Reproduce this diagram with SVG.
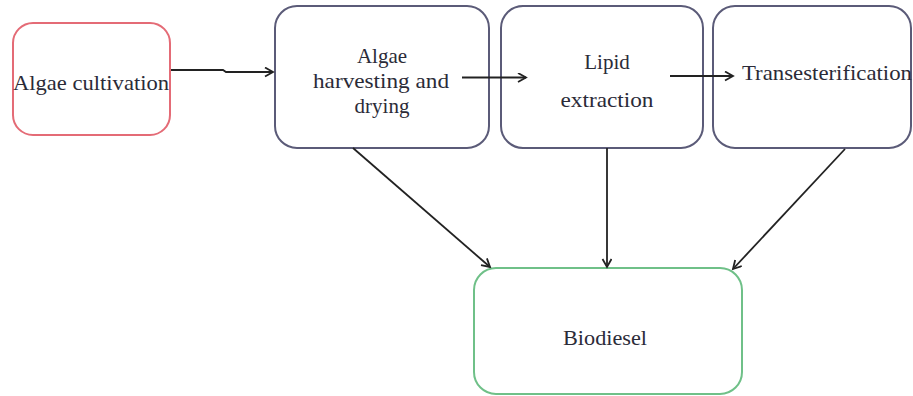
<svg xmlns="http://www.w3.org/2000/svg" width="913" height="396" viewBox="0 0 913 396">
<style>
.box{fill:#fff;stroke-width:2}
.p{stroke:#5b5b78}
.t{font-family:"Liberation Serif","Times New Roman",serif;font-size:21px;fill:#2b2b38;text-anchor:middle}
.c{fill:none;stroke:#222;stroke-width:1.8}
</style>
<defs>
<marker id="ah" markerWidth="12" markerHeight="12" refX="9" refY="5" orient="auto" markerUnits="userSpaceOnUse">
<path d="M1,0.5 L9,5 L1,9.5" fill="none" stroke="#222" stroke-width="1.8"/>
</marker>
</defs>
<rect width="913" height="396" fill="#fff"/>
<g id="cultivation">
<rect class="box" x="13" y="23" width="157" height="112" rx="20" stroke="#e46b76"/>
<text class="t" x="91" y="90" textLength="156" lengthAdjust="spacingAndGlyphs">Algae cultivation</text>
</g>
<g id="harvesting">
<rect class="box p" x="275" y="6" width="214" height="142" rx="22"/>
<text class="t" x="382" y="63">Algae</text>
<text class="t" x="381" y="88" textLength="136" lengthAdjust="spacingAndGlyphs">harvesting and</text>
<text class="t" x="382" y="113">drying</text>
</g>
<g id="extraction">
<rect class="box p" x="501" y="6" width="202" height="142" rx="22"/>
<text class="t" x="607" y="69">Lipid</text>
<text class="t" x="607" y="107" textLength="93" lengthAdjust="spacingAndGlyphs">extraction</text>
</g>
<g id="transesterification">
<rect class="box p" x="713" y="6" width="198" height="142" rx="22"/>
<text class="t" x="827" y="80" textLength="170" lengthAdjust="spacingAndGlyphs">Transesterification</text>
</g>
<g id="biodiesel">
<rect class="box" x="474" y="268" width="268" height="126" rx="22" stroke="#6fc088"/>
<text class="t" x="605" y="345" textLength="84" lengthAdjust="spacingAndGlyphs">Biodiesel</text>
</g>
<g id="connectors">
<path class="c" d="M171,70 L223,70 L226,72 L273,72" marker-end="url(#ah)"/>
<path class="c" d="M462,77.5 L526,77.5" marker-end="url(#ah)"/>
<path class="c" d="M670,76 L733,76" marker-end="url(#ah)"/>
<path class="c" d="M353,148 L490,267" marker-end="url(#ah)"/>
<path class="c" d="M607,148 L607,267" marker-end="url(#ah)"/>
<path class="c" d="M845,149 L733,269" marker-end="url(#ah)"/>
</g>
</svg>
